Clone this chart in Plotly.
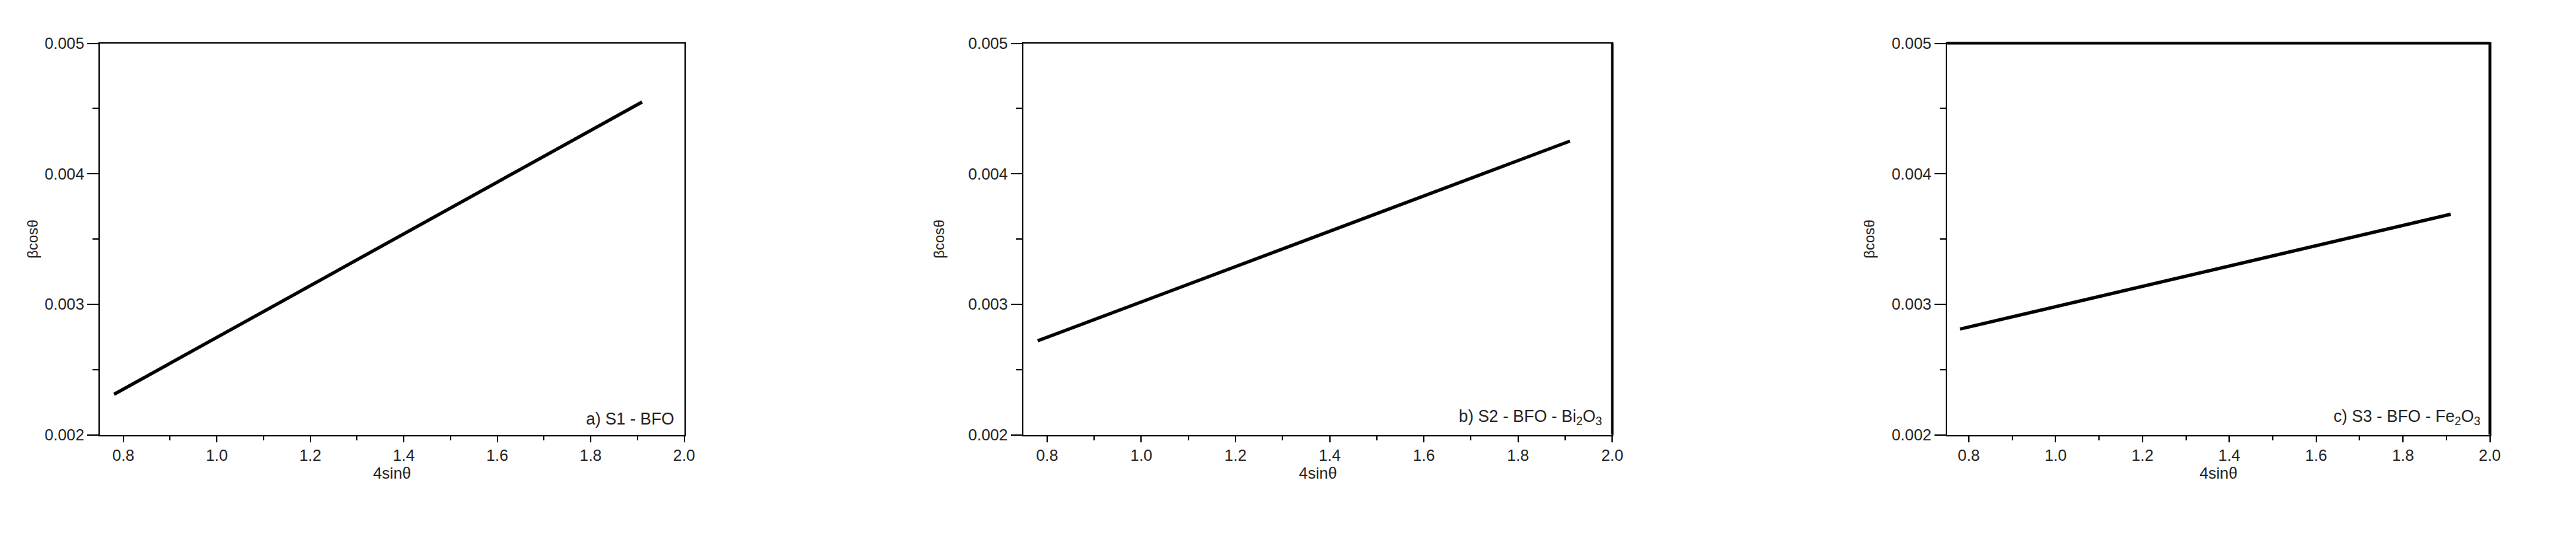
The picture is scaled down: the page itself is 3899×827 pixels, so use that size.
import plotly.graph_objects as go

W, H = 3899, 827

x_s1 = [0.78, 1.91]
y_s1 = [0.00231, 0.00455]
x_s2 = [0.78, 1.91]
y_s2 = [0.00272, 0.00425]
x_s3 = [0.78, 1.91]
y_s3 = [0.00281, 0.00369]

labels = ['a) S1 - BFO',
          'b) S2 - BFO - Bi<sub>2</sub>O<sub>3</sub>',
          'c) S3 - BFO - Fe<sub>2</sub>O<sub>3</sub>']
x_ticks = [0.8, 1.0, 1.2, 1.4, 1.6, 1.8, 2.0]
y_ticks = [0.002, 0.003, 0.004, 0.005]

# pixel extents of the three plot boxes
boxes = [(144, 1032), (1548, 2443), (2952, 3777)]
top, bottom = 45, 658
ytitle_gap = [4, 30, 20]

fig = go.Figure()
font = dict(family='Liberation Sans, Arial', size=24, color='#222')
series = [(x_s1, y_s1), (x_s2, y_s2), (x_s3, y_s3)]
for i, ((xs, ys), (l, r)) in enumerate(zip(series, boxes)):
    n = '' if i == 0 else str(i + 1)
    fig.add_trace(go.Scatter(x=xs, y=ys, mode='lines', line=dict(color='black', width=5),
                             xaxis='x' + n, yaxis='y' + n, showlegend=False))
    common = dict(showline=True, linecolor='black', linewidth=2, mirror=True,
                  ticks='outside', tickcolor='black', tickwidth=2,
                  showgrid=False, zeroline=False, tickfont=font)
    fig.layout['xaxis' + n] = dict(
        domain=[l / W, r / W], range=[0.75, 2.0], anchor='y' + n,
        tickvals=x_ticks, ticktext=['%.1f' % v for v in x_ticks], ticklen=9,
        minor=dict(dtick=0.1, tick0=0.8, ticks='outside', ticklen=6, tickcolor='black', tickwidth=2),
        title=dict(text='4sinθ', font=font, standoff=6), **common)
    fig.layout['yaxis' + n] = dict(
        domain=[1 - bottom / H, 1 - top / H], range=[0.002, 0.005], anchor='x' + n,
        tickvals=y_ticks, ticktext=['%.3f' % v for v in y_ticks], ticklen=17,
        minor=dict(dtick=0.0005, ticks='outside', ticklen=9, tickcolor='black', tickwidth=2),
        title=dict(text='βcosθ', font=dict(family='Liberation Sans, Arial', size=22, color='#222'),
                   standoff=ytitle_gap[i]), **common)
    fig.add_annotation(text=labels[i], xref='x' + n + ' domain', yref='y' + n + ' domain',
                       x=0.985, y=0.015, xanchor='right', yanchor='bottom', showarrow=False,
                       font=dict(family='Liberation Sans, Arial', size=25, color='#222'))
    if i > 0:
        # heavier right border
        fig.add_shape(type='line', xref='x' + n + ' domain', yref='y' + n + ' domain',
                      x0=1, x1=1, y0=0, y1=1, line=dict(color='black', width=4))
    if i == 2:
        fig.add_shape(type='line', xref='x' + n + ' domain', yref='y' + n + ' domain',
                      x0=0, x1=1, y0=1, y1=1, line=dict(color='black', width=4))

fig.update_layout(width=W, height=H, margin=dict(l=0, r=0, t=0, b=0),
                  plot_bgcolor='white', paper_bgcolor='white')
fig.write_html("out.html")
